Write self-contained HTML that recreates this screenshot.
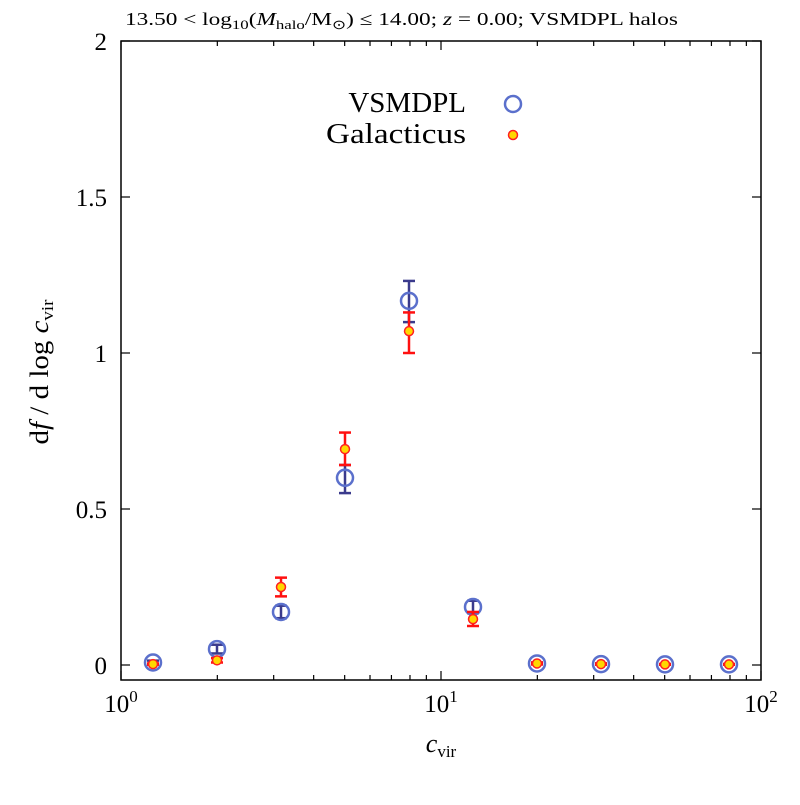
<!DOCTYPE html>
<html><head><meta charset="utf-8"><style>
body{margin:0;background:#fff}
svg text{font-family:"Liberation Serif",serif;fill:#000}
</style></head><body>
<svg id="c" width="800" height="800">
<g id="axes"></g><g id="marks"></g>
<text x="125" y="25" font-size="18" textLength="553" lengthAdjust="spacingAndGlyphs">13.50 &lt; log<tspan font-size="13" dy="4">10</tspan><tspan dy="-4">(</tspan><tspan font-style="italic">M</tspan><tspan font-size="13" dy="4">halo</tspan><tspan dy="-4">/M</tspan><tspan font-size="13" dy="4">⊙</tspan><tspan dy="-4">) ≤ 14.00; </tspan><tspan font-style="italic">z</tspan> = 0.00; VSMDPL halos</text>
<text x="441" y="752" font-size="26" text-anchor="middle"><tspan font-style="italic">c</tspan><tspan font-size="17" dy="5">vir</tspan></text>
<text transform="translate(48,372) rotate(-90)" font-size="26" text-anchor="middle" textLength="145" lengthAdjust="spacingAndGlyphs">d<tspan font-style="italic">f</tspan> / d log <tspan font-style="italic">c</tspan><tspan font-size="17" dy="5">vir</tspan></text>
<g>
<text x="466" y="112" font-size="29" text-anchor="end">VSMDPL</text>
<circle cx="513" cy="104" r="8" fill="none" stroke="#5b70cc" stroke-width="2.5"/>
<text x="466" y="143" font-size="29" text-anchor="end" textLength="140" lengthAdjust="spacingAndGlyphs">Galacticus</text>
<circle cx="513" cy="135" r="4.5" fill="#ffd700" stroke="#ff2020" stroke-width="1.5"/>
</g>
</svg>
<script>
const xLog = [0.1,0.3,0.5,0.7,0.9,1.1,1.3,1.5,1.7,1.9];
const vsmdplVal = [0.008,0.051,0.17,0.6,1.167,0.186,0.005,0.003,0.002,0.002];
const vsmdplLo = [0.002,0.037,0.15,0.551,1.099,0.166,0.002,0.001,0.001,0.001];
const vsmdplHi = [0.014,0.065,0.19,0.641,1.231,0.206,0.008,0.005,0.003,0.003];
const galVal = [0.003,0.015,0.25,0.692,1.07,0.147,0.005,0.003,0.002,0.002];
const galLo = [0.001,0.008,0.22,0.641,1.0,0.125,0.002,0.001,0.001,0.001];
const galHi = [0.005,0.022,0.28,0.745,1.13,0.17,0.008,0.005,0.003,0.003];
const yTicks = [0,0.5,1,1.5,2];
const yTickLabels = ["0","0.5","1","1.5","2"];
const xTicks = [0,1,2];
const L=121,R=761,T=41,B=680;
const X=v=>L+(v-0)/2*(R-L);
const Y=v=>665-v*312;
const NS="http://www.w3.org/2000/svg";
function mk(p,t,a){const e=document.createElementNS(NS,t);for(const k in a)e.setAttribute(k,a[k]);p.appendChild(e);return e;}
const ax=document.getElementById('axes'), mg=document.getElementById('marks');
const frame=mk(ax,'rect',{x:L,y:T,width:R-L,height:B-T,fill:'none',stroke:'#000','stroke-width':1.5});


yTicks.forEach((v,i)=>{
  const y=Y(v);
  mk(ax,'line',{x1:L,x2:L+9,y1:y,y2:y,stroke:'#000','stroke-width':1.2});
  mk(ax,'line',{x1:R,x2:R-9,y1:y,y2:y,stroke:'#000','stroke-width':1.2});
  const t=mk(ax,'text',{x:L-14,y:y+9,'font-size':25,'text-anchor':'end'});
  t.textContent=yTickLabels[i];
  
  
});
xTicks.forEach(d=>{
  const x=X(d);
  mk(ax,'line',{x1:x,x2:x,y1:B,y2:B-9,stroke:'#000','stroke-width':1.2});
  mk(ax,'line',{x1:x,x2:x,y1:T,y2:T+9,stroke:'#000','stroke-width':1.2});
  const t=mk(ax,'text',{x:x,y:712,'font-size':25,'text-anchor':'middle'});
  t.innerHTML='10<tspan font-size="17" dy="-10">'+d+'</tspan>';
  
  
  if(d<2)for(let m=2;m<10;m++){const xm=X(d+Math.log10(m));
    mk(ax,'line',{x1:xm,x2:xm,y1:B,y2:B-5,stroke:'#000','stroke-width':1.2});
    mk(ax,'line',{x1:xm,x2:xm,y1:T,y2:T+5,stroke:'#000','stroke-width':1.2});}
});
function series(val,lo,hi,ecol,name,draw){
  val.forEach((v,i)=>{
    const x=X(xLog[i]),g=mk(mg,'g',{});
    
    
    mk(g,'line',{x1:x,x2:x,y1:Y(lo[i]),y2:Y(hi[i]),stroke:ecol,'stroke-width':2.5});
    mk(g,'line',{x1:x-6,x2:x+6,y1:Y(lo[i]),y2:Y(lo[i]),stroke:ecol,'stroke-width':2.5});
    mk(g,'line',{x1:x-6,x2:x+6,y1:Y(hi[i]),y2:Y(hi[i]),stroke:ecol,'stroke-width':2.5});
    draw(g,x,Y(v));
  });
}
series(vsmdplVal,vsmdplLo,vsmdplHi,'#3a3a8c','vsmdpl',(g,x,y)=>mk(g,'circle',{cx:x,cy:y,r:8,fill:'none',stroke:'#5b70cc','stroke-width':2.5}));
series(galVal,galLo,galHi,'#ff1010','galacticus',(g,x,y)=>mk(g,'circle',{cx:x,cy:y,r:4.5,fill:'#ffd700',stroke:'#ff2020','stroke-width':1.5}));
</script>
</body></html>
